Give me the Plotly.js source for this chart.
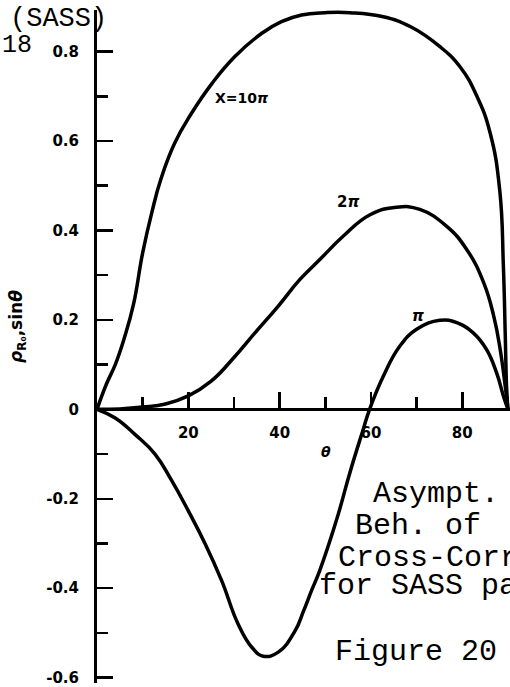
<!DOCTYPE html>
<html>
<head>
<meta charset="utf-8">
<script src="https://cdn.plot.ly/plotly-3.0.1.min.js"></script>
<style>
  html, body { margin: 0; padding: 0; background: #fff; }
  #chart { width: 510px; height: 687px; }
</style>
</head>
<body>
<div id="chart"></div>
<script>
// Asymptotic cross-correlation curves, rho_R0 sin(theta) versus theta (degrees)
const theta10pi = [0, 2, 4, 6, 8, 10, 12, 14, 17, 20.7, 25.2, 30.2, 36.1, 40.4, 44.8, 50, 55.4, 62.7, 68.6, 75.1, 79.5, 83.2, 86.1, 88.2, 89.0, 89.4, 89.7, 90];
const rho10pi   = [0, 0.055, 0.10, 0.16, 0.235, 0.35, 0.44, 0.515, 0.595, 0.662, 0.729, 0.789, 0.841, 0.867, 0.882, 0.887, 0.887, 0.878, 0.856, 0.811, 0.766, 0.70, 0.618, 0.49, 0.32, 0.17, 0.05, 0];

const theta2pi = [0, 5, 10, 15, 20, 25, 30, 34.6, 39.7, 44.4, 48.8, 53.9, 59.8, 65.6, 70.7, 76.6, 81, 84.7, 86.9, 88.3, 89.4, 90];
const rho2pi   = [0, 0.001, 0.005, 0.012, 0.03, 0.063, 0.116, 0.171, 0.231, 0.29, 0.335, 0.387, 0.435, 0.452, 0.447, 0.409, 0.357, 0.283, 0.208, 0.134, 0.052, 0];

const theta1pi = [0, 3.9, 8.3, 12.7, 16.4, 20, 23.7, 27.3, 30.9, 33.9, 36.4, 39.7, 43.4, 45.2, 47, 48.8, 52.5, 55.4, 58.3, 59.7, 62.7, 66.3, 70, 75.1, 78.8, 82.4, 85.3, 87.5, 89, 90];
const rho1pi   = [0, -0.019, -0.056, -0.1, -0.16, -0.227, -0.301, -0.383, -0.48, -0.532, -0.552, -0.543, -0.495, -0.452, -0.405, -0.36, -0.246, -0.141, -0.045, 0, 0.074, 0.141, 0.179, 0.199, 0.194, 0.171, 0.134, 0.082, 0.03, 0];

// Axis ticks and labels
const xMajor = [20, 40, 60, 80];
const xMajorText = ['20', '40', '60', '80'];
const xMinor = [10, 30, 50, 70, 90];
const yMajor = [-0.6, -0.4, -0.2, 0, 0.2, 0.4, 0.6, 0.8];
const yMajorText = ['-0.6', '-0.4', '-0.2', '0', '0.2', '0.4', '0.6', '0.8'];
const yMinor = [-0.5, -0.3, -0.1, 0.1, 0.3, 0.5, 0.7];

const curveLine = { color: '#000', width: 3.5, shape: 'spline', smoothing: 1.3 };

const traces = [
  { x: theta10pi, y: rho10pi, mode: 'lines', line: curveLine, name: 'X=10π' },
  { x: theta2pi,  y: rho2pi,  mode: 'lines', line: curveLine, name: '2π' },
  { x: theta1pi,  y: rho1pi,  mode: 'lines', line: curveLine, name: 'π' }
];

const tickFont = { family: 'DejaVu Sans', size: 15, weight: 'bold', color: '#000' };
const typeFont = { family: 'Liberation Mono', size: 30, color: '#000' };
const markFont = { family: 'DejaVu Sans', size: 14, weight: 'bold', color: '#000' };

function typed(text, x, y, size) {
  return {
    text: text, xref: 'paper', yref: 'paper', x: x, y: y,
    xanchor: 'left', yanchor: 'middle', showarrow: false,
    font: Object.assign({}, typeFont, size ? { size: size } : {})
  };
}

const layout = {
  width: 510,
  height: 687,
  margin: { l: 97, r: 0, t: 10, b: 4, pad: 0 },
  paper_bgcolor: '#fff',
  plot_bgcolor: '#fff',
  showlegend: false,
  xaxis: {
    range: [0, 90.45],
    anchor: 'free',
    position: 0.4068,
    showline: true, linewidth: 3, linecolor: '#000',
    showgrid: false, zeroline: false,
    ticks: 'inside', ticklen: 16, tickwidth: 2.5, tickcolor: '#000',
    tickmode: 'array', tickvals: xMajor, ticktext: xMajorText,
    tickfont: tickFont, ticklabelstandoff: 9,
    minor: { tickmode: 'array', tickvals: xMinor, ticks: 'inside', ticklen: 11, tickwidth: 2.5, tickcolor: '#000', showgrid: false }
  },
  yaxis: {
    range: [-0.612, 0.893],
    showline: true, linewidth: 3, linecolor: '#000',
    showgrid: false, zeroline: false,
    ticks: 'inside', ticklen: 16, tickwidth: 2.5, tickcolor: '#000',
    tickmode: 'array', tickvals: yMajor, ticktext: yMajorText,
    tickfont: tickFont, ticklabelstandoff: 12,
    minor: { tickmode: 'array', tickvals: yMinor, ticks: 'inside', ticklen: 11, tickwidth: 2.5, tickcolor: '#000', showgrid: false }
  },
  annotations: [
    // curve labels
    { text: 'X=10<i>π</i>', x: 31.8, y: 0.697, xref: 'x', yref: 'y', showarrow: false, font: markFont },
    { text: '2<i>π</i>', x: 55.0, y: 0.464, xref: 'x', yref: 'y', showarrow: false, font: Object.assign({}, markFont, { size: 15 }) },
    { text: '<i>π</i>', x: 70.3, y: 0.208, xref: 'x', yref: 'y', showarrow: false, font: Object.assign({}, markFont, { size: 15 }) },
    // axis names
    { text: '<i>θ</i>', x: 50.2, y: -0.096, xref: 'x', yref: 'y', showarrow: false, font: markFont },
    { text: '<i>ρ</i><sub>R₀</sub>,sin<i>θ</i>', x: -0.225, y: 0.53, xref: 'paper', yref: 'paper',
      textangle: -90, showarrow: false, font: Object.assign({}, markFont, { size: 17 }) },
    // typed page notes
    typed('(SASS)', -0.2155, 0.987, 27),
    typed('18', -0.2349, 0.947, 25),
    typed('Asympt.', 0.6634, 0.2807),
    typed('Beh. of', 0.6199, 0.2330),
    typed('Cross-Corr.', 0.5787, 0.1853),
    typed('for SASS pat.', 0.5327, 0.1436),
    typed('Figure 20', 0.5714, 0.0467)
  ]
};

Plotly.newPlot('chart', traces, layout, { staticPlot: true, displayModeBar: false });
</script>
</body>
</html>
